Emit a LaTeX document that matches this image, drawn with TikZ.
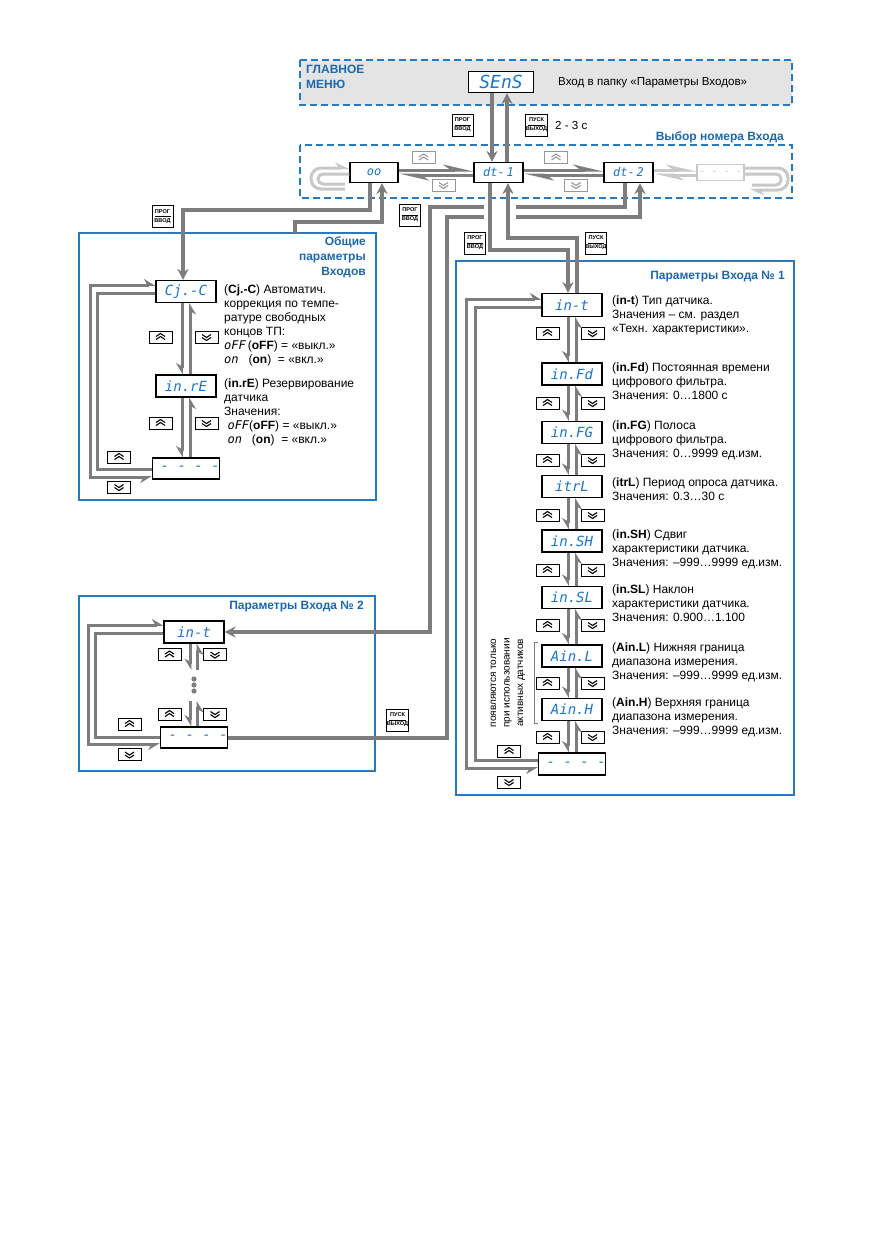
\documentclass[tikz,border=0pt]{standalone}
\usepackage{fontspec}
\setmainfont{Liberation Sans}
\newfontfamily\ledfont{DejaVu Sans Mono}
\usetikzlibrary{arrows.meta}
\definecolor{frameblue}{RGB}{40,122,192}
\definecolor{titleblue}{RGB}{28,104,176}
\definecolor{ledblue}{RGB}{22,118,210}
\definecolor{linegray}{RGB}{125,125,125}
\definecolor{faint}{RGB}{200,200,200}
\definecolor{menubg}{RGB}{228,228,228}
\definecolor{btngray}{RGB}{150,150,150}
\newcommand{\ledin}[1]{{\ledfont\itshape #1}}
\begin{document}
\begin{tikzpicture}[x=1pt,y=-1pt,
  chevcolor/.initial=black,
  conn/.style={draw=linegray, line width=4pt, -{Stealth[length=11pt,width=11pt]}},
  chain/.style={draw=linegray, line width=3pt},
  dn/.style={chain, -{Stealth[harpoon,swap,length=10pt,width=12pt]}},
  loopln/.style={chain, {Stealth[harpoon,length=10pt,width=12pt]}-{Stealth[harpoon,swap,length=10pt,width=12pt]}},
  rowln/.style={draw=linegray, line width=3pt, -{Stealth[harpoon,length=24pt,width=11pt]}},
  faintln/.style={draw=faint, line width=3pt},
  disp/.style={draw=black, line width=1.1pt, fill=white, minimum width=60pt, minimum height=22pt,
    inner sep=0pt, text=ledblue, font=\ledfont\itshape\fontsize{14}{14}\selectfont},
  key/.style={draw=black, line width=1pt, fill=white, minimum width=21pt, minimum height=22pt,
    inner sep=0pt, align=center, font=\fontsize{5.6}{9}\selectfont\bfseries,
    path picture={\draw[line width=0.6pt] ([xshift=2.5pt]path picture bounding box.west) -- ([xshift=-2.5pt]path picture bounding box.east);}},
  btn/.style={draw, line width=0.9pt, fill=white, minimum width=23pt, minimum height=12pt, inner sep=0pt},
  upb/.style={btn, path picture={\foreach \dy in {-2.5pt,0.5pt}{\draw[line width=1.1pt, draw=\pgfkeysvalueof{/tikz/chevcolor}] ([shift={(-4.5pt,\dy)}]path picture bounding box.center) -- ++(4.5pt,3pt) -- ++(4.5pt,-3pt);}}},
  dnb/.style={btn, path picture={\foreach \dy in {2.5pt,-0.5pt}{\draw[line width=1.1pt, draw=\pgfkeysvalueof{/tikz/chevcolor}] ([shift={(-4.5pt,\dy)}]path picture bounding box.center) -- ++(4.5pt,-3pt) -- ++(4.5pt,3pt);}}},
  rowbtn/.style={draw=btngray, chevcolor=btngray},
  frame/.style={draw=frameblue, line width=1.3pt},
  dframe/.style={draw=frameblue, line width=1.3pt, dash pattern=on 7pt off 4pt},
  title/.style={text=titleblue, font=\fontsize{12}{15}\selectfont\bfseries, inner sep=0pt},
  desc/.style={anchor=north west, align=left, inner sep=0pt, font=\fontsize{12}{14}\selectfont}
]
\useasboundingbox (0,0) rectangle (872,1239);
\fill[white] (0,0) rectangle (872,1239);

% ---------- frames ----------
\fill[menubg] (300,60) rectangle (792,105);
\draw[dframe] (300,60) rectangle (792,105);
\draw[dframe] (300,145) rectangle (792,198);
\draw[frame] (79,233) rectangle (376,500);
\draw[frame] (79,596) rectangle (375,771);
\draw[frame] (456,261) rectangle (794,795);

% ---------- titles ----------
\node[title, anchor=north west, align=left] (ttmenu) at (306,65) {ГЛАВНОЕ\\МЕНЮ};
\node[title, anchor=east] (ttsel) at (784,137) {Выбор номера Входа};
\node[title, anchor=north east, align=right] (ttgen) at (366,236) {Общие\\параметры\\Входов};
\node[title, anchor=east] (tt1) at (785,277) {Параметры Входа № 1};
\node[title, anchor=east] (tt2) at (364,607) {Параметры Входа № 2};
\node[anchor=west, inner sep=0pt, font=\fontsize{11.6}{14}\selectfont] (menutxt) at (558,83) {Вход в папку «Параметры Входов»};
\node[anchor=west, inner sep=0pt, font=\fontsize{11.6}{14}\selectfont] (t23) at (555,126) {2 - 3 с};

% ---------- displays ----------
\node[disp, minimum width=65pt, minimum height=21pt, font=\ledfont\itshape\fontsize{18}{18}\selectfont] (sens) at (501,82) {SEnS};
\node[disp, minimum width=48pt, minimum height=20pt, font=\ledfont\itshape\fontsize{12}{12}\selectfont] (dt0) at (374,172.5) {oo};
\node[disp, minimum width=49pt, minimum height=20pt, font=\ledfont\itshape\fontsize{12}{12}\selectfont] (dt1) at (498.5,172.5) {dt-\,1};
\node[disp, minimum width=49pt, minimum height=20pt, font=\ledfont\itshape\fontsize{12}{12}\selectfont] (dt2) at (628.5,172.5) {dt-\,2};
\node[disp, draw=faint, text=faint, minimum width=47pt, minimum height=16pt, font=\ledfont\fontsize{10}{10}\selectfont] (dtx) at (720.5,172.5) {- - - -};

\node[disp] (cjc) at (186,291.5) {Cj.-C};
\node[disp] (inre) at (186,386) {in.rE};
\node[disp, minimum width=63pt, minimum height=21pt] (dash0) at (186,468.5) {\ - - - -};

\node[disp] (int2) at (194,632) {in-t};
\node[disp, minimum width=65pt, minimum height=21pt] (dash2) at (194,737.5) {\ - - - -};

\node[disp, minimum height=23pt] (int1) at (572,305) {in-t};
\node[disp] (infd) at (572,374) {in.Fd};
\node[disp] (infg) at (572,432.5) {in.FG};
\node[disp] (itrl) at (572,486.5) {itrL};
\node[disp] (insh) at (572,541) {in.SH};
\node[disp] (insl) at (572,597.5) {in.SL};
\node[disp] (ainl) at (572,656) {Ain.L};
\node[disp] (ainh) at (572,709.5) {Ain.H};
\node[disp, minimum width=65pt] (dash1) at (572,764) {\ - - - -};

% ---------- keys ----------
\node[key] (k1) at (462.5,125) {ПРОГ\\ВВОД};
\node[key] (k2) at (536.5,125) {ПУСК\\ВЫХОД};
\node[key] (k3) at (162.5,216.5) {ПРОГ\\ВВОД};
\node[key] (k4) at (410,215) {ПРОГ\\ВВОД};
\node[key] (k5) at (475,243) {ПРОГ\\ВВОД};
\node[key] (k6) at (596,243) {ПУСК\\ВЫХОД};
\node[key] (k7) at (397.5,720) {ПУСК\\ВЫХОД};

% ---------- row buttons ----------
\node[upb, rowbtn] (ru1) at (423.5,157.5) {};
\node[dnb, rowbtn] (rd1) at (443.5,185) {};
\node[upb, rowbtn] (ru2) at (556,157.5) {};
\node[dnb, rowbtn] (rd2) at (576,185) {};

% ---------- general box buttons ----------
\node[upb] (gu1) at (160.5,337) {};
\node[dnb] (gd1) at (206.5,337) {};
\node[upb] (gu2) at (160.5,423) {};
\node[dnb] (gd2) at (206.5,423) {};
\node[upb] (gu3) at (119,457) {};
\node[dnb] (gd3) at (119,487) {};

% ---------- input 2 buttons ----------
\node[upb] (bu1) at (169.5,654.5) {};
\node[dnb] (bd1) at (215,654.5) {};
\node[upb] (bu2) at (169.5,714) {};
\node[dnb] (bd2) at (215,714) {};
\node[upb] (bu3) at (129.5,724) {};
\node[dnb] (bd3) at (129.5,754.5) {};

% ---------- input 1 buttons ----------
\foreach \y [count=\i] in {333,403,460,515,570,625,683,737}{
  \node[upb] (au\i) at (547.5,\y) {};
  \node[dnb] (ad\i) at (592.5,\y) {};
}
\node[upb] (au9) at (509,751) {};
\node[dnb] (ad9) at (509,782) {};

% ---------- descriptions ----------
\node[desc] (tcjc) at (224,285) {(\textbf{Cj.-C}) Автоматич.\\коррекция по темпе-\\ратуре свободных\\концов ТП:\\\ledin{oFF}\,(\textbf{oFF}) = «выкл.»\\\ledin{on}\ \ \ (\textbf{on})\ \ = «вкл.»};
\node[desc] (tinre) at (224,379) {(\textbf{in.rE}) Резервирование\\датчика\\Значения:\\\ \ledin{oFF}(\textbf{oFF}) = «выкл.»\\\ \ledin{on}\ \ \ (\textbf{on})\ \ = «вкл.»};
\node[desc] (tint) at (612,296) {(\textbf{in-t}) Тип датчика.\\Значения – см. раздел\\«Техн. характеристики».};
\node[desc] (tinfd) at (612,363) {(\textbf{in.Fd}) Постоянная времени\\цифрового фильтра.\\Значения: 0…1800 с};
\node[desc] (tinfg) at (612,421) {(\textbf{in.FG}) Полоса\\цифрового фильтра.\\Значения: 0…9999 ед.изм.};
\node[desc] (titrl) at (612,478) {(\textbf{itrL}) Период опроса датчика.\\Значения: 0.3…30 с};
\node[desc] (tinsh) at (612,530) {(\textbf{in.SH}) Сдвиг\\характеристики датчика.\\Значения: –999…9999 ед.изм.};
\node[desc] (tinsl) at (612,585) {(\textbf{in.SL}) Наклон\\характеристики датчика.\\Значения: 0.900…1.100};
\node[desc] (tainl) at (612,643) {(\textbf{Ain.L}) Нижняя граница\\диапазона измерения.\\Значения: –999…9999 ед.изм.};
\node[desc] (tainh) at (612,698) {(\textbf{Ain.H}) Верхняя граница\\диапазона измерения.\\Значения: –999…9999 ед.изм.};
\node[rotate=90, align=center, inner sep=0pt, font=\fontsize{10}{13.5}\selectfont] (tact) at (508,683) {появляются только\\при использовании\\активных датчиков};
\draw[linegray, line width=0.6pt] (538,642) -- (534,642) -- (534,723) -- (538,723);

% ---------- connectors: main menu ----------
\draw[conn] ([xshift=-9pt]sens.south) -- ([xshift=-6.5pt]dt1.north);
\draw[conn] ([xshift=8.5pt]dt1.north) -- ([xshift=6pt]sens.south);

% ---------- row ----------
\draw[rowln] ([yshift=2.5pt]dt0.east) -- ([yshift=2.5pt]dt1.west);
\draw[rowln] ([yshift=-2.5pt]dt1.west) -- ([yshift=-2.5pt]dt0.east);
\draw[rowln] ([yshift=2.5pt]dt1.east) -- ([yshift=2.5pt]dt2.west);
\draw[rowln] ([yshift=-2.5pt]dt2.west) -- ([yshift=-2.5pt]dt1.east);
\draw[rowln, draw=faint] ([yshift=2.5pt]dt2.east) -- ([yshift=2.5pt]dtx.west);
\draw[rowln, draw=faint] ([yshift=-2.5pt]dtx.west) -- ([yshift=-2.5pt]dt2.east);
\draw[faintln, rounded corners=10pt, -{Stealth[harpoon,length=12pt,width=11pt]}] (345,189) -- (311,189) -- (311,168) -- ([yshift=4.5pt]dt0.west);
\draw[faintln, rounded corners=5pt] (345,184) -- (318,184) -- (318,174) -- ([yshift=-1.5pt]dt0.west);
\draw[faintln, rounded corners=10pt, -{Stealth[harpoon,length=12pt,width=11pt]}] ([yshift=4.5pt]dtx.east) -- (788,168) -- (788,190) -- (750,190);
\draw[faintln, rounded corners=5pt] ([yshift=-1.5pt]dtx.east) -- (781,174) -- (781,185) -- (752,185);

% ---------- row <-> parameter groups ----------
\coordinate (genexit) at (295,233);
\draw[conn] ([xshift=-4pt]dt0.south) |- (183,210) -- ([xshift=-3pt]cjc.north);
\draw[conn] (genexit) |- (382,222) -- ([xshift=8pt]dt0.south);
\draw[conn] ([xshift=-3.5pt]dt2.south) |- (430,207) |- (int2.east);
\draw[conn] (dash2.east) -| (447,217) -| ([xshift=11.5pt]dt2.south);
\fill[white] (484,201) rectangle (516,223);
\draw[conn] ([xshift=-8.5pt]dt1.south) |- (568,250) -- ([xshift=-4pt]int1.north);
\draw[conn] ([xshift=5pt]int1.north) |- (508,238) -- ([xshift=9.5pt]dt1.south);

% ---------- general parameters chain ----------
\draw[dn] ([xshift=-4pt]cjc.south) -- ([xshift=-4pt]inre.north);
\draw[dn] ([xshift=4pt]inre.north) -- ([xshift=4pt]cjc.south);
\draw[dn] ([xshift=-4pt]inre.south) -- ([xshift=-4pt]dash0.north);
\draw[dn] ([xshift=4pt]dash0.north) -- ([xshift=4pt]inre.south);
\draw[loopln] ([yshift=6.5pt]cjc.west) -| (90,477) -- ([yshift=-8.5pt]dash0.west);
\draw[chain] ([yshift=-1pt]dash0.west) -| (97,293) -- ([yshift=-1.5pt]cjc.west);

% ---------- input 2 chain ----------
\coordinate (v2a) at (194,670);
\coordinate (v2b) at (194,701);
\draw[dn] ([xshift=-3.5pt]int2.south) -- ([xshift=-3.5pt]v2a);
\draw[dn] ([xshift=3.5pt]v2a) -- ([xshift=3.5pt]int2.south);
\draw[dn] ([xshift=-3.5pt]v2b) -- ([xshift=-3.5pt]dash2.north);
\draw[dn] ([xshift=3.5pt]dash2.north) -- ([xshift=3.5pt]v2b);
\foreach \y in {679,685,691} \fill[linegray] (194,\y) circle (2.6pt);
\draw[loopln] ([yshift=7pt]int2.west) -| (88,744) -- ([yshift=-6.5pt]dash2.west);
\draw[chain] ([yshift=0.5pt]dash2.west) -| (95,633) -- ([yshift=-1pt]int2.west);

% ---------- input 1 chain ----------
\foreach \a/\b in {int1/infd, infd/infg, infg/itrl, itrl/insh, insh/insl, insl/ainl, ainl/ainh, ainh/dash1}{
  \draw[dn] ([xshift=-4pt]\a.south) -- ([xshift=-4pt]\b.north);
  \draw[dn] ([xshift=4pt]\b.north) -- ([xshift=4pt]\a.south);
}
\draw[loopln] ([yshift=6pt]int1.west) -| (466,768) -- ([yshift=-4pt]dash1.west);
\draw[chain] ([yshift=4pt]dash1.west) -| (475,307) -- ([yshift=-2pt]int1.west);
\end{tikzpicture}
\end{document}
